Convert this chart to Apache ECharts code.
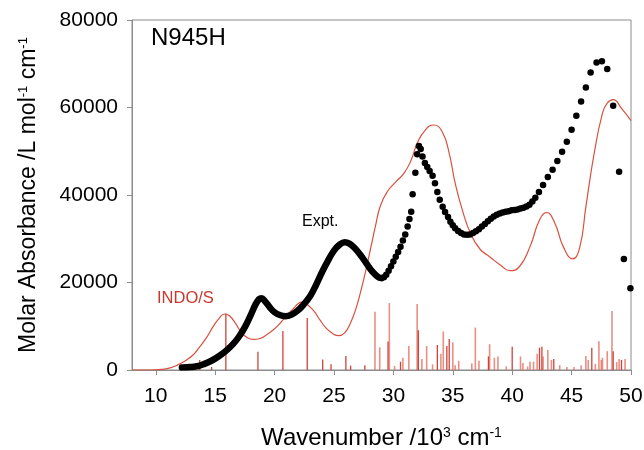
<!DOCTYPE html>
<html>
<head>
<meta charset="utf-8">
<script src="https://cdn.jsdelivr.net/npm/echarts@6/dist/echarts.min.js"></script>
<style>
html,body{margin:0;padding:0;background:#fff;}
#chart{width:644px;height:450px;}
</style>
</head>
<body>
<div id="chart"></div>
<script>
// ---- Data ----
var xTicks = [10, 15, 20, 25, 30, 35, 40, 45, 50];
var yTicks = [0, 20000, 40000, 60000, 80000];

// Experimental spectrum, dense part (dots overlap into a thick trace)
var exptDense = [
  [12.2,600],[12.7,650],[13.2,750],[13.7,1000],[14.1,1400],[14.6,2000],[15.0,2600],
  [15.5,3500],[16.0,4600],[16.5,5900],[17.0,7600],[17.5,9800],[18.0,12600],[18.4,15000],
  [18.7,16200],[18.9,16400],[19.2,15700],[19.6,14300],[20.0,13200],[20.5,12500],
  [20.9,12300],[21.4,12600],[21.9,13500],[22.4,14800],[23.0,16900],[23.5,19500],
  [24.0,22400],[24.5,25000],[25.0,27300],[25.5,28700],[25.9,29200],[26.3,28900],
  [26.7,28000],[27.2,26400],[27.7,24500],[28.2,22600],[28.7,21300],[29.0,21000]
];
// Experimental spectrum, separated dots
var exptDots = [
  [29.2,21200],[29.4,21800],[29.6,22700],[29.8,23700],[30.0,24800],[30.2,25900],
  [30.4,27000],[30.6,28200],[30.8,29600],[31.0,31000],[31.2,32800],[31.35,34500],
  [31.5,36200],[31.62,40200],[31.85,45100],[32.0,49300],[32.15,51200],[32.3,50500],
  [32.45,48800],[32.65,47300],[32.85,46400],[33.05,45500],[33.3,44400],[33.5,42700],
  [33.7,40700],[33.9,38900],[34.15,37300],[34.35,36100],[34.6,35000],[34.8,33900],
  [35.0,33100],[35.2,32400],[35.45,31800],[35.7,31300],[35.95,31000],[36.2,30900],
  [36.45,31000],[36.7,31300],[36.95,31700],[37.2,32200],[37.45,32800],[37.7,33400],
  [37.95,34000],[38.2,34600],[38.45,35100],[38.7,35500],[38.95,35800],[39.2,36000],
  [39.45,36200],[39.7,36300],[39.95,36500],[40.2,36600],[40.45,36700],[40.7,36900],
  [40.95,37100],[41.2,37400],[41.45,37800],[41.7,38500],[41.95,39400],[42.25,40700],
  [42.6,42300],[43.0,44100],[43.4,45800],[43.8,47800],[44.2,49900],[44.6,52200],
  [45.0,54900],[45.4,58100],[45.8,61400],[46.2,64600],[46.6,68000],[47.1,70300],
  [47.55,70600],[48.0,68800],[48.5,60400],[49.0,45300],[49.4,25400],[49.95,18700]
];
// INDO/S calculated spectrum
var indoCurve = [
  [8,0],[9.5,0],[10.5,150],[11.2,500],[11.8,1100],[12.6,2300],[13.2,3600],[13.7,5300],
  [14.3,7500],[14.8,9800],[15.3,11700],[15.8,12800],[16.2,12400],[16.7,10700],[17.2,8600],
  [17.7,7400],[18.2,7000],[18.8,7200],[19.3,8000],[19.9,9200],[20.5,10800],[21.0,12400],
  [21.6,14100],[22.0,15200],[22.3,15500],[22.7,15100],[23.3,13500],[23.8,11500],
  [24.3,9700],[24.8,8500],[25.4,7850],[25.9,8500],[26.4,10800],[26.9,14500],[27.3,18500],
  [27.7,23000],[28.1,28000],[28.5,33000],[28.9,37500],[29.5,40800],[30.2,43000],
  [30.9,45000],[31.5,48000],[32.0,51800],[32.7,54900],[33.4,56000],[34.1,54500],
  [34.7,49500],[35.2,42700],[35.8,36600],[36.5,31200],[37.3,27600],[38.1,25900],
  [39.0,24000],[39.8,22700],[40.6,23600],[41.5,28200],[42.3,34300],[42.9,36000],
  [43.6,33500],[44.3,28200],[45.1,25400],[45.7,28200],[46.2,37300],[46.9,49500],
  [47.6,58700],[48.0,61000],[48.5,61800],[49.2,59800],[50,57000]
];
// INDO/S transitions (sticks)
var sticksDark = [
  [13.7,2300],[14.7,700],[15.9,12900],[18.6,4200],[20.7,8900],[22.75,11900],[24.05,2400],
  [24.75,1300],[26.0,3200],[26.4,1000],[27.6,1100],[29.55,6500],[30.6,1900],[32.1,9100],
  [33.7,5700],[34.5,5500],[34.7,7100],[38.0,3100],[40.0,5300],[42.3,5100],[42.5,5300],
  [43.5,2500],[46.7,5100],[48.5,4300],[49.2,2300]
];
var sticksLight = [
  [28.45,13300],[28.85,5200],[29.66,15300],[30.1,900],[30.8,2800],[31.3,5500],
  [32.0,15100],[32.4,2500],[32.8,5500],[33.3,1300],[34.0,3700],[34.2,8800],[35.0,6300],
  [35.2,1100],[35.5,2100],[36.6,1500],[36.9,9700],[37.2,2100],[38.1,5900],[38.5,2800],
  [38.8,3100],[39.5,800],[40.7,3100],[40.9,1600],[41.3,800],[41.5,1900],[41.8,1900],
  [42.1,3700],[42.6,3100],[43.0,4600],[43.3,2300],[44.0,1100],[44.6,700],[45.2,700],
  [45.8,1100],[46.2,3200],[46.4,2300],[47.0,1400],[47.3,6600],[47.5,2300],[47.6,2800],
  [48.0,4300],[48.4,13500],[48.8,1800],[49.0,2500],[49.5,2500]
];

// ---- Chart ----
var RED = '#d9503f';
var AXIS = '#8c8c8c';
var FONT = '"Liberation Sans", Arial, sans-serif';

function stickRenderer(color, width) {
  return function (params, api) {
    var p0 = api.coord([api.value(0), 0]);
    var p1 = api.coord([api.value(0), api.value(1)]);
    return {
      type: 'line',
      shape: { x1: p0[0], y1: p0[1], x2: p1[0], y2: p1[1] },
      style: { stroke: color, lineWidth: width }
    };
  };
}

var chart = echarts.init(document.getElementById('chart'), null, { renderer: 'canvas' });
chart.setOption({
  animation: false,
  backgroundColor: '#fff',
  textStyle: { fontFamily: FONT },
  grid: { left: 132, right: 13, top: 20, bottom: 80, show: true, borderColor: AXIS, borderWidth: 1,
    backgroundColor: 'transparent', containLabel: false, outerBoundsMode: 'none' },
  xAxis: {
    type: 'value', min: 8, max: 50,
    name: 'Wavenumber /10{sup|3} cm{sup|-1}',
    nameLocation: 'middle', nameGap: 56,
    nameTextStyle: { color: '#000', fontSize: 24, fontFamily: FONT,
      rich: { sup: { fontSize: 14, verticalAlign: 'top', padding: [0, 0, 10, 0], fontFamily: FONT, color: '#000' } } },
    axisLine: { show: true, lineStyle: { color: AXIS, width: 1 } },
    axisTick: { show: true, length: 5, lineStyle: { color: AXIS }, customValues: xTicks },
    axisLabel: { color: '#000', fontSize: 21, margin: 16, fontFamily: FONT, customValues: xTicks },
    splitLine: { show: false }
  },
  yAxis: {
    type: 'value', min: 0, max: 80000, interval: 20000,
    name: 'Molar Absorbance /L mol{sup|-1} cm{sup|-1}',
    nameLocation: 'middle', nameGap: 92, nameRotate: 90,
    nameTextStyle: { color: '#000', fontSize: 23, fontFamily: FONT,
      rich: { sup: { fontSize: 13, verticalAlign: 'top', padding: [0, 0, 10, 0], fontFamily: FONT, color: '#000' } } },
    axisLine: { show: true, lineStyle: { color: AXIS, width: 1 } },
    axisTick: { show: true, length: 5, lineStyle: { color: AXIS }, customValues: yTicks },
    axisLabel: { color: '#000', fontSize: 21, margin: 14, fontFamily: FONT, customValues: yTicks,
      formatter: function (v) { return String(v); } },
    splitLine: { show: false }
  },
  series: [
    { type: 'custom', name: 'sticksLight', data: sticksLight, renderItem: stickRenderer('rgba(225,105,90,0.75)', 1.6), z: 1, silent: true },
    { type: 'custom', name: 'sticksDark', data: sticksDark, renderItem: stickRenderer('rgba(205,55,45,0.95)', 1.3), z: 2, silent: true },
    { type: 'line', name: 'INDO/S', data: indoCurve, smooth: 0.5, showSymbol: false,
      lineStyle: { color: RED, width: 1.2 }, z: 3 },
    { type: 'line', name: 'Expt dense', data: exptDense, smooth: 0.4, showSymbol: false,
      lineStyle: { color: '#000', width: 6.5, cap: 'round', join: 'round' }, z: 4 },
    { type: 'scatter', name: 'Expt', data: exptDots, symbol: 'circle', symbolSize: 6.5,
      itemStyle: { color: '#000', opacity: 1 }, z: 5 }
  ],
  graphic: [
    { type: 'text', left: 151, top: 26, style: { text: 'N945H', fill: '#000', font: '24px ' + FONT } },
    { type: 'text', left: 302, top: 214, style: { text: 'Expt.', fill: '#000', font: '16px ' + FONT } },
    { type: 'text', left: 157, top: 290, style: { text: 'INDO/S', fill: '#c8382e', font: '16.5px ' + FONT } }
  ]
});
</script>
</body>
</html>
